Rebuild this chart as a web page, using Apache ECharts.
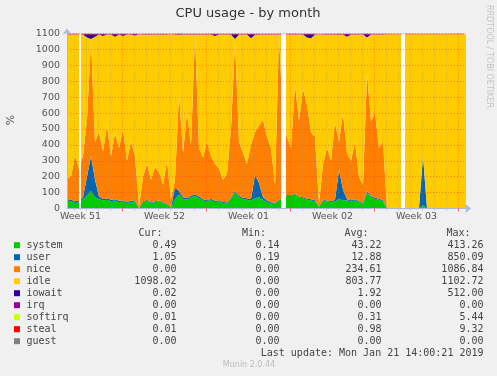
<!DOCTYPE html>
<html><head><meta charset="utf-8">
<script src="https://cdn.jsdelivr.net/npm/echarts@6/dist/echarts.min.js"></script>
<style>html,body{margin:0;padding:0;background:#f0f0f0}#c{width:497px;height:376px}</style>
</head><body><div id="c"></div>
<script>
// time: days after Mon 2018-12-17 00:00 (start of Week 51); one sample every 8 hours
const sampleStartDay = 2.375;
const sampleStepDay = 1 / 3;
const weekStarts = [0, 7, 14, 21, 28];
const weekLabels = ['Week 51', 'Week 52', 'Week 01', 'Week 02', 'Week 03'];
// periods with no data (days), drawn blank like rrdtool does
const gapStartDays = [3.375, 20.22, 30.21];
const gapEndDays = [3.54, 20.62, 30.54];

const seriesNames = ['system','user','nice','idle','iowait','irq','softirq','steal','guest'];
const seriesColors = ['#00cc00','#0066b3','#ff8000','#ffcc00','#330099','#990099','#ccff00','#ff0000','#808080'];

const system = [40,45,35,40,60,80,110,70,60,50, 55,45,50,40,45,35,40,45,0.5,40, 50,35,40,45,35,25,5,60,90,60,
  55,70,80,65,50,45,55,40,45,35, 30,60,100,70,60,55,50,65,70,55, 40,30,30,50,60,80,80,90,70,65,
  55,50,45,10,50,45,40,45,60,50, 50,45,50,40,30,100,70,60,55,45, 0.5,0.5,0.5,0.5,0.5,0.5,0.5,0.5,0.5,20,
  0.5,0.5,0.5,0.5,0.5,0.5,0.5,0.5,0.5,0.5,0.5];
const user = [10,10,10,10,10,120,220,110,15,10, 10,10,8,8,7,7,8,7,1.5,5, 5,5,5,5,5,5,3,70,20,10,
  10,10,10,10,8,7,7,8,7,7, 8,8,10,10,8,10,10,145,90,15, 10,10,5,5,5,5,5,5,5,5,
  7,8,7,2,5,5,5,10,180,70, 8,7,8,5,5,10,8,8,7,7, 1,1,1,1,1,1,1,1,1,310,
  1,1,1,1,1,1,1,1,1,1,1];
const nice = [140,145,285,200,260,360,730,240,405,300, 455,275,412,332,448,258,372,278,10,155, 225,140,215,180,110,270,52,50,610,280,
  535,320,1000,305,262,368,268,232,198,138, 182,432,940,340,282,215,340,270,360,490, 400,340,115,1035,500,365,295,685,475,680,
  588,422,398,18,225,330,255,485,180,480, 292,248,362,155,115,740,472,532,318,368, 0,0,0,0,0,0,0,0,0,0,
  0,0,0,0,0,0,0,0,0,0,0];
const idle = [904,894,764,844,763,515,5,660,613,725, 573,764,610,714,585,794,673,757,1083,894, 814,914,834,864,944,794,1035,913,372,744,
  493,694,3,714,774,673,764,805,844,914, 874,593,15,673,744,814,670,612,573,534, 644,714,944,3,529,644,714,313,544,343,
  425,590,644,1065,814,714,794,553,672,493, 730,794,674,894,944,225,543,494,714,674, 1093.5,1093.5,1093.5,1093.5,1093.5,1093.5,1093.5,1093.5,1093.5,765,
  1093.5,1093.5,1093.5,1093.5,1093.5,1093.5,1093.5,1093.5,1093.5,1093.5,1093.5];
const iowait = [1,1,1,1,2,20,30,15,2,10, 2,1,15,1,10,1,2,8,0,1, 1,1,1,1,1,1,0,2,3,1,
  2,1,2,1,1,2,1,10,1,1, 1,2,30,2,1,1,25,3,2,1, 1,1,1,2,1,1,1,2,1,2,
  20,25,1,0,1,1,1,2,3,2, 15,1,1,1,1,20,2,1,1,1, 0,0,0,0,0,0,0,0,0,0,
  0,0,0,0,0,0,0,0,0,0,0];
const irq = [0,0,0,0,0,0,0,0,0,0, 0,0,0,0,0,0,0,0,0,0, 0,0,0,0,0,0,0,0,0,0,
  0,0,0,0,0,0,0,0,0,0, 0,0,0,0,0,0,0,0,0,0, 0,0,0,0,0,0,0,0,0,0,
  0,0,0,0,0,0,0,0,0,0, 0,0,0,0,0,0,0,0,0,0, 0,0,0,0,0,0,0,0,0,0,
  0,0,0,0,0,0,0,0,0,0,0];
const softirq = [0.3,0.3,0.3,0.3,0.4,0.5,0.6,0.4,0.3,0.3, 0.3,0.3,0.3,0.3,0.3,0.3,0.3,0.3,0.1,0.3, 0.3,0.3,0.3,0.3,0.3,0.3,0.2,0.4,0.5,0.3,
  0.4,0.3,0.6,0.3,0.3,0.3,0.3,0.3,0.3,0.3, 0.3,0.4,0.6,0.3,0.3,0.3,0.3,0.4,0.4,0.3, 0.3,0.3,0.3,0.5,0.4,0.4,0.4,0.5,0.4,0.4,
  0.4,0.3,0.3,0.1,0.3,0.3,0.3,0.4,0.4,0.4, 0.3,0.3,0.3,0.3,0.3,0.5,0.4,0.4,0.3,0.3, 0.01,0.01,0.01,0.01,0.01,0.01,0.01,0.01,0.01,0.1,
  0.01,0.01,0.01,0.01,0.01,0.01,0.01,0.01,0.01,0.01,0.01];
const steal = [5,5,4,5,5,6,5,5,4,5, 5,5,4,5,5,4,5,5,3,4, 5,4,5,4,4,5,3,5,6,5,
  5,4,5,5,4,5,5,4,5,4, 4,5,5,5,4,5,5,5,4,5, 5,4,4,5,5,5,5,6,5,5,
  5,5,4,3,4,5,4,5,5,5, 5,4,5,4,4,6,5,5,4,5, 5,5,5,5,5,5,5,5,5,5,
  5,5,5,5,5,5,5,5,5,5,5];
const guest = [0,0,0,0,0,0,0,0,0,0, 0,0,0,0,0,0,0,0,0,0, 0,0,0,0,0,0,0,0,0,0,
  0,0,0,0,0,0,0,0,0,0, 0,0,0,0,0,0,0,0,0,0, 0,0,0,0,0,0,0,0,0,0,
  0,0,0,0,0,0,0,0,0,0, 0,0,0,0,0,0,0,0,0,0, 0,0,0,0,0,0,0,0,0,0,
  0,0,0,0,0,0,0,0,0,0,0];

const statCur = ['0.49','1.05','0.00','1098.02','0.02','0.00','0.01','0.01','0.00'];
const statMin = ['0.14','0.19','0.00','0.00','0.00','0.00','0.00','0.00','0.00'];
const statAvg = ['43.22','12.88','234.61','803.77','1.92','0.00','0.31','0.98','0.00'];
const statMax = ['413.26','850.09','1086.84','1102.72','512.00','0.00','5.44','9.32','0.00'];
const lastUpdate = 'Last update: Mon Jan 21 14:00:21 2019';

const seriesValues = [system, user, nice, idle, iowait, irq, softirq, steal, guest];

const chart = echarts.init(document.getElementById('c'), null, {renderer: 'canvas'});
const DAY_MS = 86400000;
const baseMs = Date.UTC(2018, 11, 17);
const dayToMs = d => baseMs + d * DAY_MS;
const toPairs = arr => arr.map((v, i) => [dayToMs(sampleStartDay + i * sampleStepDay), v == null ? '-' : v]);

const axisMinDay = 2.375, axisMaxDay = 35.625;
const weekBounds = weekStarts.map(d => d + 7);
const dayLines = [];
for (let d = 3; d <= 35; d++) if (d % 7 !== 0) dayLines.push(d);

const series = seriesNames.map((n, i) => ({
  name: n, type: 'line', stack: 'cpu', xAxisIndex: 2, yAxisIndex: 0,
  data: toPairs(seriesValues[i]), symbol: 'none', showSymbol: false,
  connectNulls: false, smooth: false, z: 1,
  lineStyle: {width: 0}, areaStyle: {color: seriesColors[i], opacity: 1},
  itemStyle: {color: seriesColors[i]}, silent: true, animation: false
}));
series[series.length - 1].markArea = {
  silent: true, z: 2, label: {show: false},
  itemStyle: {color: '#ffffff', opacity: 1, borderWidth: 0},
  data: gapStartDays.map((s, i) => [{xAxis: dayToMs(s)}, {xAxis: dayToMs(gapEndDays[i])}])
};

const mono = '10px "DejaVu Sans Mono"';
const txtCol = '#444';
const graphic = [
  {type: 'text', x: 248, y: 14, style: {text: 'CPU usage - by month', font: '13px "DejaVu Sans"', fill: '#333', align: 'center', verticalAlign: 'middle'}},
  {type: 'text', x: 489, y: 5, rotation: -Math.PI / 2, style: {text: 'RRDTOOL / TOBI OETIKER', font: '8px "DejaVu Sans"', fill: '#c4c4c4', align: 'left', verticalAlign: 'middle'}},
  {type: 'text', x: 11, y: 120, rotation: Math.PI / 2, style: {text: '%', font: '11px "DejaVu Sans"', fill: '#555', align: 'center', verticalAlign: 'middle'}},
  {type: 'text', x: 162.5, y: 233.5, style: {text: 'Cur:', font: mono, fill: txtCol, align: 'right', verticalAlign: 'middle'}},
  {type: 'text', x: 266, y: 233.5, style: {text: 'Min:', font: mono, fill: txtCol, align: 'right', verticalAlign: 'middle'}},
  {type: 'text', x: 368.5, y: 233.5, style: {text: 'Avg:', font: mono, fill: txtCol, align: 'right', verticalAlign: 'middle'}},
  {type: 'text', x: 470.5, y: 233.5, style: {text: 'Max:', font: mono, fill: txtCol, align: 'right', verticalAlign: 'middle'}},
  {type: 'text', x: 483.5, y: 353.7, style: {text: lastUpdate, font: mono, fill: txtCol, align: 'right', verticalAlign: 'middle'}},
  {type: 'text', x: 249, y: 365, style: {text: 'Munin 2.0.44', font: '8px "DejaVu Sans"', fill: '#bbbbbb', align: 'center', verticalAlign: 'middle'}}
];
seriesNames.forEach((n, i) => {
  const y = 245.7 + 12 * i;
  graphic.push({type: 'rect', shape: {x: 14, y: y - 3.5, width: 6, height: 6}, style: {fill: seriesColors[i]}});
  graphic.push({type: 'text', x: 26.5, y: y, style: {text: n, font: mono, fill: txtCol, align: 'left', verticalAlign: 'middle'}});
  graphic.push({type: 'text', x: 176.5, y: y, style: {text: statCur[i], font: mono, fill: txtCol, align: 'right', verticalAlign: 'middle'}});
  graphic.push({type: 'text', x: 279.5, y: y, style: {text: statMin[i], font: mono, fill: txtCol, align: 'right', verticalAlign: 'middle'}});
  graphic.push({type: 'text', x: 381.5, y: y, style: {text: statAvg[i], font: mono, fill: txtCol, align: 'right', verticalAlign: 'middle'}});
  graphic.push({type: 'text', x: 483.5, y: y, style: {text: statMax[i], font: mono, fill: txtCol, align: 'right', verticalAlign: 'middle'}});
});

const axisBlue = '#a9b6de';
const majorGrid = 'rgba(255,40,40,0.5)';
const minorGrid = 'rgba(140,140,140,0.5)';

chart.setOption({
  animation: false,
  backgroundColor: '#f0f0f0',
  grid: {left: 67, top: 33.5, width: 399, height: 175, show: true, backgroundColor: '#ffffff', borderWidth: 0, containLabel: false},
  xAxis: [
    {type: 'value', min: axisMinDay, max: axisMaxDay, z: 3,
      axisLine: {show: true, lineStyle: {color: axisBlue, width: 1}, symbol: ['none', 'arrow'], symbolSize: [7, 6], symbolOffset: [0, 5]},
      axisTick: {show: true, customValues: weekBounds, length: 3, lineStyle: {color: '#ff6060'}},
      splitLine: {show: true, lineStyle: {color: majorGrid, type: [1, 2], width: 1}},
      axisLabel: {show: true, customValues: weekStarts.map(d => d + 3.5),
        formatter: v => weekLabels[Math.round((v - 3.5) / 7)] || '',
        fontSize: 9.5, fontFamily: 'DejaVu Sans', color: '#555', margin: 3}},
    {type: 'value', min: axisMinDay, max: axisMaxDay, z: 3, position: 'bottom',
      axisLine: {show: false}, axisLabel: {show: false},
      axisTick: {show: true, customValues: dayLines, length: 2, lineStyle: {color: '#c0c0c0'}},
      splitLine: {show: true, lineStyle: {color: minorGrid, type: [1, 2], width: 1}}},
    {type: 'time', min: dayToMs(axisMinDay), max: dayToMs(axisMaxDay), show: false,
      axisLine: {show: false}, axisLabel: {show: false}, axisTick: {show: false}, splitLine: {show: false}}
  ],
  yAxis: {type: 'value', min: 0, max: 1100, interval: 100, z: 3,
    axisLine: {show: true, lineStyle: {color: axisBlue, width: 1}, symbol: ['none', 'arrow'], symbolSize: [7, 6], symbolOffset: [0, 5]},
    axisTick: {show: false},
    splitLine: {show: true, lineStyle: {color: majorGrid, type: [1, 2], width: 1}},
    axisLabel: {fontSize: 9.5, fontFamily: 'DejaVu Sans', color: '#555', margin: 7, formatter: v => String(v)}},
  series: series,
  graphic: graphic
});
</script></body></html>
